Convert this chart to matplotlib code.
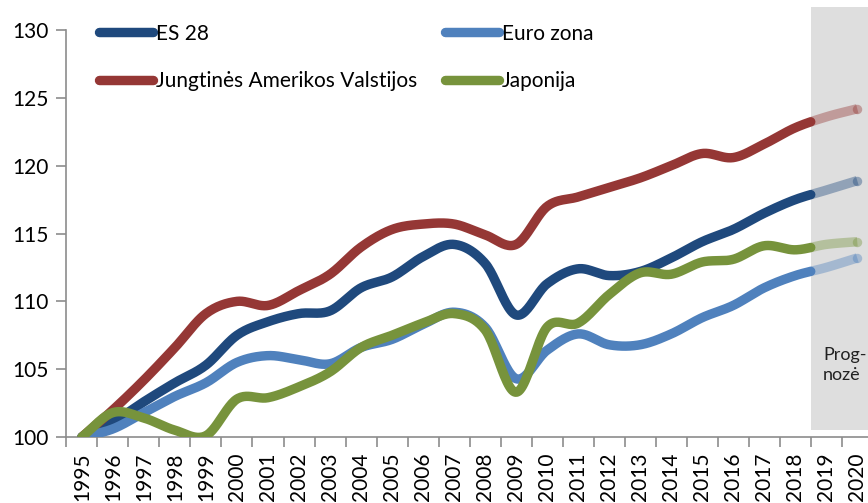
import numpy as np
import matplotlib
matplotlib.use("Agg")
import matplotlib.pyplot as plt
from matplotlib.patches import Rectangle

plt.rcParams['font.family'] = ['Lato', 'DejaVu Sans']

years = list(range(1995, 2021))
es28 = [100, 101.1, 102.6, 104.0, 105.3, 107.5, 108.5, 109.1, 109.3, 111.0, 111.8, 113.3,
        114.2, 112.8, 109.0, 111.3, 112.4, 111.9, 112.2, 113.2, 114.4, 115.3, 116.5, 117.5,
        118.2, 118.9]
euro = [100, 100.6, 101.8, 103.0, 104.0, 105.5, 106.0, 105.7, 105.4, 106.6, 107.2, 108.3,
        109.2, 108.1, 104.3, 106.4, 107.6, 106.8, 106.8, 107.6, 108.8, 109.7, 111.0, 111.9,
        112.5, 113.2]
usa = [100, 102.0, 104.2, 106.6, 109.1, 110.0, 109.7, 110.8, 112.0, 114.0, 115.3, 115.7,
       115.7, 114.9, 114.2, 117.0, 117.7, 118.4, 119.1, 120.0, 120.9, 120.6, 121.6, 122.8,
       123.6, 124.2]
japan = [100, 101.8, 101.4, 100.5, 100.1, 102.8, 102.9, 103.7, 104.8, 106.6, 107.5, 108.4,
         109.1, 107.9, 103.3, 108.1, 108.4, 110.5, 112.1, 112.0, 112.9, 113.1, 114.1, 113.8,
         114.2, 114.4]

# order so the 2-column legend reads ES 28 / Euro zona on the first row
series = [
    ("ES 28", es28, "#1f497d"),
    ("Jungtinės Amerikos Valstijos", usa, "#953735"),
    ("Euro zona", euro, "#4f81bd"),
    ("Japonija", japan, "#77933c"),
]
forecast_start = 2018.5
lw = 6.8


def smooth(x, y, n=24):
    # cubic hermite with catmull-rom tangents, like excel's smoothed line
    x = np.asarray(x, float)
    y = np.asarray(y, float)
    m = np.zeros_like(y)
    m[1:-1] = (y[2:] - y[:-2]) / 2
    m[0] = y[1] - y[0]
    m[-1] = y[-1] - y[-2]
    xs, ys = [], []
    for i in range(len(x) - 1):
        t = np.linspace(0, 1, n, endpoint=False)
        h00 = 2 * t**3 - 3 * t**2 + 1
        h10 = t**3 - 2 * t**2 + t
        h01 = -2 * t**3 + 3 * t**2
        h11 = t**3 - t**2
        xs.append(x[i] + t * (x[i + 1] - x[i]))
        ys.append(h00 * y[i] + h10 * m[i] + h01 * y[i + 1] + h11 * m[i + 1])
    xs.append([x[-1]])
    ys.append([y[-1]])
    return np.concatenate(xs), np.concatenate(ys)


fig = plt.figure(figsize=(8.68, 5.03), dpi=100)
ax = fig.add_axes([0.0765, 0.1312, 0.929, 0.809])

ax.add_patch(Rectangle((forecast_start, 100.5), 2.2, 31.2, facecolor="#dedede",
                       edgecolor="none", zorder=1, clip_on=False))

for name, vals, col in series:
    xs, ys = smooth(years, vals)
    past = xs <= forecast_start
    ax.plot(xs[past], ys[past], color=col, lw=lw, solid_capstyle="round",
            solid_joinstyle="round", label=name, zorder=3)
    fut = xs >= forecast_start
    ax.plot(xs[fut], ys[fut], color=col, lw=lw, alpha=0.4, solid_capstyle="butt",
            zorder=3)
    ax.plot([xs[-1]], [ys[-1]], "o", color=col, ms=lw, alpha=0.4, mec="none", zorder=3)

ax.text(2018.9, 106.6, "Prog-\nnozė", fontsize=13, color="#222222",
        va="top", ha="left", linespacing=1.3, zorder=4)

ax.set_xlim(1994.5, 2020.5)
ax.set_ylim(100, 130)
ax.set_yticks(range(100, 131, 5))
ax.set_xticks(years)
ax.set_xticklabels([str(y) for y in years], rotation=90)
ax.set_xticks(np.arange(1994.5, 2020.6, 1), minor=True)
ax.tick_params(axis="x", which="major", length=0, pad=11, labelsize=15)
ax.tick_params(axis="x", which="minor", length=7, width=1.2, color="#8c8c8c")
ax.tick_params(axis="y", length=7, width=1.2, color="#8c8c8c", labelsize=15, pad=6)
for s in ["top", "right"]:
    ax.spines[s].set_visible(False)
for s in ["left", "bottom"]:
    ax.spines[s].set_color("#8c8c8c")
    ax.spines[s].set_linewidth(1.2)

leg = ax.legend(loc="upper left", bbox_to_anchor=(0.03, 1.036), ncol=2, frameon=False,
                fontsize=15, handlelength=2.6, handletextpad=0.15, columnspacing=1.3,
                labelspacing=1.3, borderaxespad=0)
for h in leg.get_lines():
    h.set_linewidth(lw)
    h.set_solid_capstyle("round")

fig.savefig("out.png", dpi=100)
